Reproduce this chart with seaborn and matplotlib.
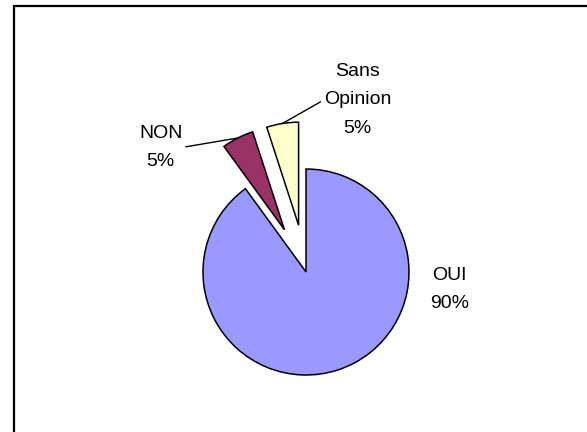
import numpy as np
import matplotlib
matplotlib.use("Agg")
import matplotlib.pyplot as plt
import seaborn as sns
from matplotlib.patches import Rectangle

# --------------------------------------------------------------------------- #
# Data
# --------------------------------------------------------------------------- #
labels = ["OUI", "NON", "Sans\nOpinion"]
shares = [90, 5, 5]
colors = ["#9999FF", "#993366", "#FFFFCC"]
explode = [0, 0.46, 0.46]

# label anchor points (data units, radius = 1)
label_pos = [(1.39, -0.17), (-1.41, 1.21), (0.50, 1.67)]
with_leader = [False, True, True]
leader_relpos = [(0.5, 0.5), (1.0, 0.5), (0.0, 0.5)]

sns.set_theme(style="white")
plt.rcParams["font.family"] = ["Liberation Sans", "DejaVu Sans"]
plt.rcParams["text.color"] = "black"

fig = plt.figure(figsize=(5.87, 4.32), dpi=100)
ax = fig.add_axes([0, 0, 1, 1])

wedges, _ = ax.pie(
    shares, colors=colors, explode=explode, startangle=90,
    counterclock=False, radius=1,
    wedgeprops=dict(edgecolor="black", linewidth=1.1),
)

for w, lab, val, pos, lead, rp in zip(wedges, labels, shares, label_pos,
                                      with_leader, leader_relpos):
    text = f"{lab}\n{val}%"
    if lead:
        mid = np.deg2rad((w.theta1 + w.theta2) / 2)
        cx, cy = w.center
        xy = (cx + w.r * np.cos(mid), cy + w.r * np.sin(mid))
        ax.annotate(text, xy=xy, xytext=pos, ha="center", va="center",
                    fontsize=14, linespacing=1.85, color="black",
                    arrowprops=dict(arrowstyle="-", color="black", lw=1,
                                    shrinkA=0, shrinkB=0, relpos=rp))
    else:
        ax.text(pos[0], pos[1], text, ha="center", va="center",
                fontsize=14, linespacing=1.85, color="black")

# pie centre at (306, 272) px from top-left, radius 103 px
ax.set_xlim(-306 / 103, (587 - 306) / 103)
ax.set_ylim(-(432 - 272) / 103, 272 / 103)
ax.set_aspect("equal")
ax.axis("off")

# chart frame (runs off the right and bottom edges)
fig.patches.append(Rectangle((14.5 / 587, -0.1), 1.2, (432 - 6.5) / 432 + 0.1,
                             transform=fig.transFigure, fill=False,
                             edgecolor="black", linewidth=1.6))

plt.savefig("out.png", dpi=100)
plt.close()
